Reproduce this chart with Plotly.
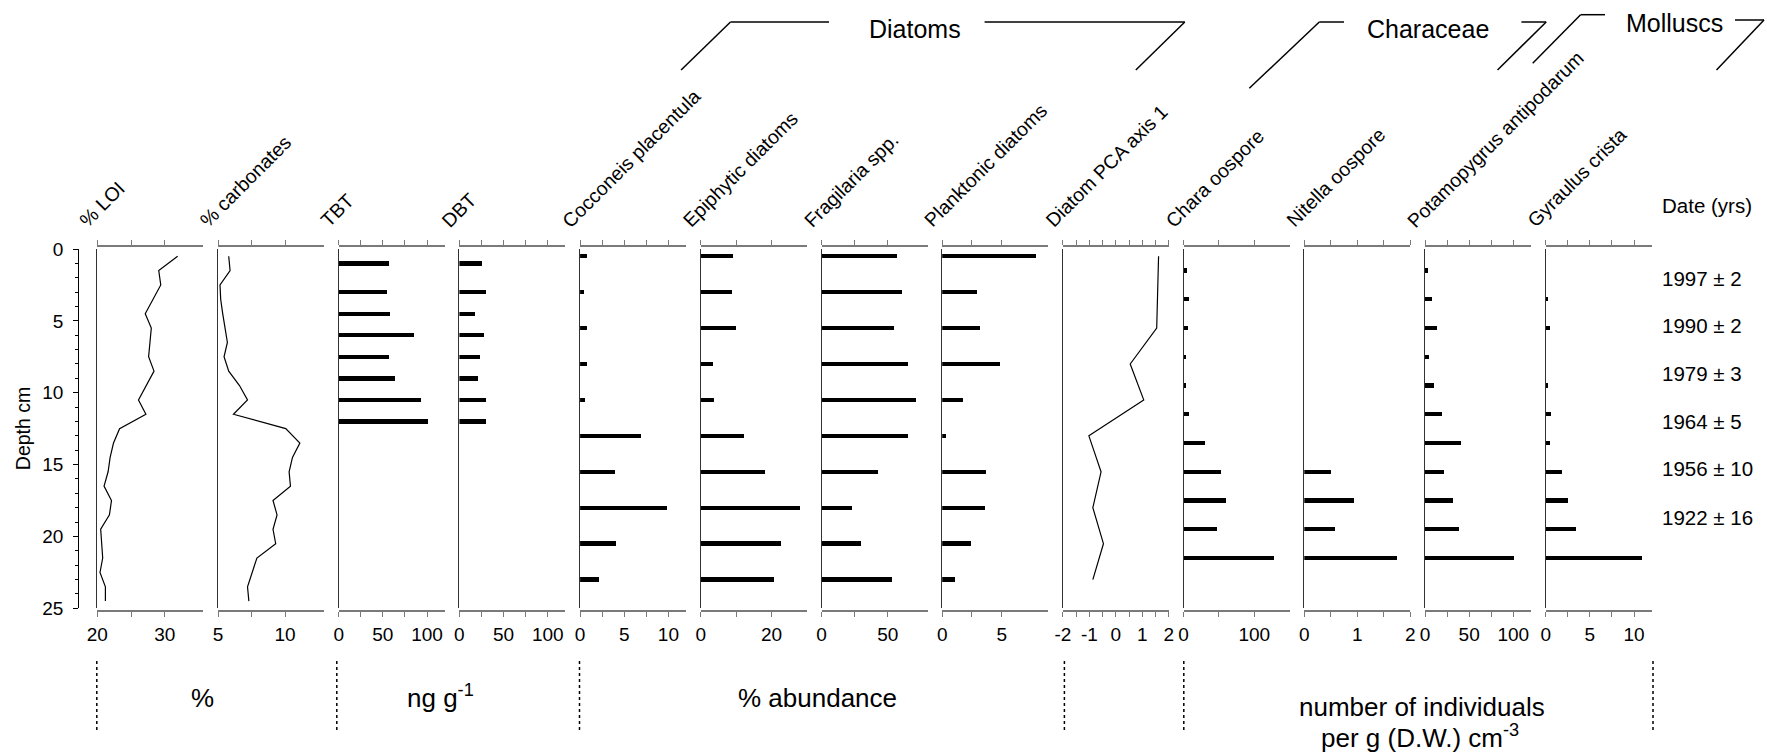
import plotly.graph_objects as go

W, H = 1767, 756
FONT = "Liberation Sans, Arial, Helvetica, sans-serif"

# ---------------- data ----------------
# sediment sub-samples (cm)
depth_sed = [0.5, 1.5, 2.5, 3.5, 4.5, 5.5, 6.5, 7.5, 8.5, 9.5, 10.5, 11.5, 12.5,
             13.5, 14.5, 15.5, 16.5, 17.5, 18.5, 19.5, 20.5, 21.5, 22.5, 23.5, 24.5]
loi = [31.9, 29.1, 29.4, 28.3, 27.1, 28.0, 27.8, 27.6, 28.4, 27.2, 26.1, 27.2, 23.3,
       22.4, 21.9, 21.6, 21.0, 22.1, 21.8, 20.5, 20.6, 20.8, 20.4, 21.2, 21.2]
carbonates = [5.8, 5.9, 5.15, 5.2, 5.35, 5.5, 5.7, 5.45, 5.8, 6.6, 7.2, 6.15, 10.05,
              11.1, 10.55, 10.3, 10.4, 9.1, 9.4, 9.1, 9.3, 7.9, 7.55, 7.2, 7.3]

# organotins (ng g-1)
depth_tin = [1.0, 3.0, 4.5, 6.0, 7.5, 9.0, 10.5, 12.0]
tbt = [57, 54, 58, 85, 57, 63, 93, 101]
dbt = [26, 30, 18, 28, 24, 21, 31, 31]

# diatoms (% abundance) and PCA axis 1 scores
depth_diatom = [0.5, 3.0, 5.5, 8.0, 10.5, 13.0, 15.5, 18.0, 20.5, 23.0]
cocconeis = [0.8, 0.5, 0.8, 0.8, 0.6, 6.9, 4.0, 9.8, 4.1, 2.2]
epiphytic = [9.0, 8.7, 9.8, 3.3, 3.6, 12.1, 18.1, 28.0, 22.6, 20.7]
fragilaria = [56.5, 60.3, 54.0, 64.8, 70.8, 65.2, 42.3, 22.3, 29.5, 53.2]
planktonic = [7.9, 2.9, 3.2, 4.9, 1.8, 0.3, 3.7, 3.6, 2.4, 1.1]
pca_axis1 = [1.61, 1.58, 1.54, 0.54, 1.05, -1.02, -0.56, -0.87, -0.47, -0.87]

# Characeae oospores and molluscs (individuals per g D.W. cm-3)
depth_macro = [1.5, 3.5, 5.5, 7.5, 9.5, 11.5, 13.5, 15.5, 17.5, 19.5, 21.5]
chara = [3.7, 7.5, 6.1, 3.2, 2.8, 7.5, 30.0, 52.5, 59.0, 46.5, 126.8]
nitella = [0, 0, 0, 0, 0, 0, 0, 0.51, 0.94, 0.59, 1.75]
potamopyrgus = [3.8, 8.4, 13.6, 5.0, 10.2, 18.9, 41.2, 21.2, 31.7, 38.9, 100.7]
gyraulus = [0, 0.26, 0.45, 0, 0.23, 0.57, 0.45, 1.85, 2.5, 3.44, 10.83]

# 210Pb dates
date_labels = ["1997 ± 2", "1990 ± 2", "1979 ± 3", "1964 ± 5", "1956 ± 10", "1922 ± 16"]
date_depths = [2.05, 5.35, 8.65, 12.0, 15.3, 18.65]

depth_ticks = [0, 5, 10, 15, 20, 25]

# panel: (title, depths, values, kind, x-range, tickvals, ticktext)
panels = [
    ("% LOI", depth_sed, loi, "line", [20, 35.7], [20, 25, 30], ["20", "", "30"]),
    ("% carbonates", depth_sed, carbonates, "line", [5, 12.9], [5, 7.5, 10], ["5", "", "10"]),
    ("TBT", depth_tin, tbt, "bar", [0, 120], [0, 25, 50, 75, 100], ["0", "", "50", "", "100"]),
    ("DBT", depth_tin, dbt, "bar", [0, 120], [0, 25, 50, 75, 100], ["0", "", "50", "", "100"]),
    ("Cocconeis placentula", depth_diatom, cocconeis, "bar", [0, 12], [0, 2.5, 5, 7.5, 10], ["0", "", "5", "", "10"]),
    ("Epiphytic diatoms", depth_diatom, epiphytic, "bar", [0, 30], [0, 10, 20], ["0", "", "20"]),
    ("Fragilaria spp.", depth_diatom, fragilaria, "bar", [0, 80], [0, 25, 50], ["0", "", "50"]),
    ("Planktonic diatoms", depth_diatom, planktonic, "bar", [0, 8.9], [0, 2.5, 5], ["0", "", "5"]),
    ("Diatom PCA axis 1", depth_diatom, pca_axis1, "line", [-2, 2],
     [-2, -1.5, -1, -0.5, 0, 0.5, 1, 1.5, 2], ["-2", "", "-1", "", "0", "", "1", "", "2"]),
    ("Chara oospore", depth_macro, chara, "bar", [0, 150], [0, 50, 100], ["0", "", "100"]),
    ("Nitella oospore", depth_macro, nitella, "bar", [0, 2], [0, 0.5, 1, 1.5, 2], ["0", "", "1", "", "2"]),
    ("Potamopygrus antipodarum", depth_macro, potamopyrgus, "bar", [0, 120], [0, 25, 50, 75, 100], ["0", "", "50", "", "100"]),
    ("Gyraulus crista", depth_macro, gyraulus, "bar", [0, 12], [0, 2.5, 5, 7.5, 10], ["0", "", "5", "", "10"]),
]

# ---------------- layout geometry (pixels) ----------------
def px(x):
    return x / W


def py(y):
    return 1 - y / H


PANEL_X0 = 97.3
PANEL_STEP = 120.7
PANEL_W = 106
Y_TOP, Y_BOT = 249.0, 608.3          # depth 0 and depth 25
AX_TOP, AX_BOT = 245.7, 611.0        # horizontal axis lines
ydom = [py(Y_BOT), py(Y_TOP)]
n = len(panels)

fig = go.Figure()
layout = dict(
    width=W, height=H, autosize=False,
    margin=dict(l=0, r=0, t=0, b=0, pad=0, autoexpand=False),
    paper_bgcolor="white", plot_bgcolor="white",
    showlegend=False, bargap=0,
    font=dict(family=FONT, color="black", size=19),
)
annotations = []
shapes = []

axis_grey = "#7a7a7a"

for i, (title, dep, vals, kind, xr, tv, tt) in enumerate(panels):
    k = i + 1
    kt = n + k + 1  # overlaying top axis id
    x0 = PANEL_X0 + i * PANEL_STEP
    x1 = x0 + PANEL_W
    xs = "" if k == 1 else str(k)

    if kind == "line":
        fig.add_trace(go.Scatter(x=vals, y=dep, mode="lines",
                                 line=dict(color="black", width=1.2),
                                 xaxis="x" + xs, yaxis="y" + xs, hoverinfo="skip"))
    else:
        fig.add_trace(go.Bar(x=vals, y=dep, orientation="h", width=0.3,
                             marker=dict(color="black", line=dict(width=0)),
                             xaxis="x" + xs, yaxis="y" + xs, hoverinfo="skip"))
    # invisible trace registering the top axis
    fig.add_trace(go.Scatter(x=[xr[0]], y=[0], mode="markers", marker=dict(opacity=0),
                             xaxis="x" + str(kt), yaxis="y" + xs, hoverinfo="skip"))

    common = dict(range=xr, tickvals=tv, ticks="outside", ticklen=5, tickwidth=1.3,
                  tickcolor=axis_grey, showline=True, linecolor=axis_grey, linewidth=2,
                  showgrid=False, zeroline=False, fixedrange=True, automargin=False)
    layout["xaxis" + xs] = dict(domain=[px(x0), px(x1)], anchor="free", position=py(AX_BOT),
                                side="bottom", ticktext=tt, tickfont=dict(size=19),
                                ticklabelstandoff=1, **common)
    layout["xaxis" + str(kt)] = dict(domain=[px(x0), px(x1)], anchor="free", position=py(AX_TOP),
                                     side="top", overlaying="x" + xs, showticklabels=False, **common)
    layout["yaxis" + xs] = dict(domain=ydom, range=[25, 0], anchor="x" + xs,
                                showline=True, linecolor="#333333", linewidth=1.4,
                                ticks="", showticklabels=False, showgrid=False,
                                zeroline=False, fixedrange=True, automargin=False)

    annotations.append(dict(text=title, x=px(x0 - 25), y=py(234), xref="paper", yref="paper",
                            xanchor="left", yanchor="bottom", textangle=-45, showarrow=False,
                            font=dict(size=19.5)))

# depth axis on its own hidden-x subplot
kd = n + 1
fig.add_trace(go.Scatter(x=[0], y=[0], mode="markers", marker=dict(opacity=0),
                         xaxis="x" + str(kd), yaxis="y" + str(kd), hoverinfo="skip"))
layout["xaxis" + str(kd)] = dict(domain=[px(79.3), px(86)], range=[0, 1], visible=False,
                                 fixedrange=True, automargin=False)
layout["yaxis" + str(kd)] = dict(domain=ydom, range=[25, 0], anchor="x" + str(kd), side="left",
                                 showline=True, linecolor="black", linewidth=1.4,
                                 ticks="outside", ticklen=5, tickcolor="black", tickwidth=1.3,
                                 tickvals=depth_ticks, tickfont=dict(size=19),
                                 ticklabelstandoff=6, automargin=False,
                                 minor=dict(dtick=1, tick0=0, ticks="outside", ticklen=3,
                                            tickcolor="black", tickwidth=1.1),
                                 showgrid=False, zeroline=False, fixedrange=True)
annotations.append(dict(text="Depth cm", x=px(22.5), y=py((Y_TOP + Y_BOT) / 2), xref="paper",
                        yref="paper", textangle=-90, showarrow=False, font=dict(size=19.5),
                        xanchor="center", yanchor="middle"))

# dates column
annotations.append(dict(text="Date (yrs)", x=px(1660), y=py(205), xref="paper", yref="paper",
                        xanchor="left", yanchor="middle", showarrow=False, font=dict(size=20.5)))
for lab, d in zip(date_labels, date_depths):
    annotations.append(dict(text=lab, x=px(1660), y=d, xref="paper", yref="y",
                            xanchor="left", yanchor="middle", showarrow=False,
                            font=dict(size=20.5)))

# group brackets
bracket_lines = [
    # Diatoms
    (681.1, 70, 730.5, 22), (730.5, 22, 829, 22), (984.6, 22, 1184.8, 22), (1184.8, 22, 1135.8, 70),
    # Characeae
    (1249.3, 88.3, 1319.3, 22), (1319.3, 22, 1344, 22), (1521.4, 22, 1546.2, 22), (1546.2, 22, 1497.5, 70),
    # Molluscs
    (1532.7, 63.3, 1580.6, 14.7), (1580.6, 14.7, 1605, 14.7), (1735, 20, 1764, 20), (1764, 20, 1716.5, 70),
]
for xa, ya, xb, yb in bracket_lines:
    shapes.append(dict(type="line", xref="paper", yref="paper", x0=px(xa), y0=py(ya),
                       x1=px(xb), y1=py(yb), line=dict(color="black", width=1.5)))
for txt, cx, cy in [("Diatoms", 915, 29), ("Characeae", 1428, 29), ("Molluscs", 1674, 23)]:
    annotations.append(dict(text=txt, x=px(cx), y=py(cy), xref="paper", yref="paper",
                            xanchor="center", yanchor="middle", showarrow=False,
                            font=dict(size=25)))

# unit row
for xd in [96.8, 336.8, 579.5, 1064.4, 1183.8, 1653]:
    shapes.append(dict(type="line", xref="paper", yref="paper", x0=px(xd), x1=px(xd),
                       y0=py(661), y1=py(731), line=dict(color="black", width=1.5, dash="dot")))
for txt, cx, cy in [("%", 202, 698), ("ng g<sup>-1</sup>", 440, 696),
                    ("% abundance", 817, 698), ("number of individuals", 1422, 707),
                    ("per g (D.W.) cm<sup>-3</sup>", 1420, 736)]:
    annotations.append(dict(text=txt, x=px(cx), y=py(cy), xref="paper", yref="paper",
                            xanchor="center", yanchor="middle", showarrow=False,
                            font=dict(size=26)))

layout["annotations"] = annotations
layout["shapes"] = shapes
fig.update_layout(**layout)
fig.write_html("out.html")
